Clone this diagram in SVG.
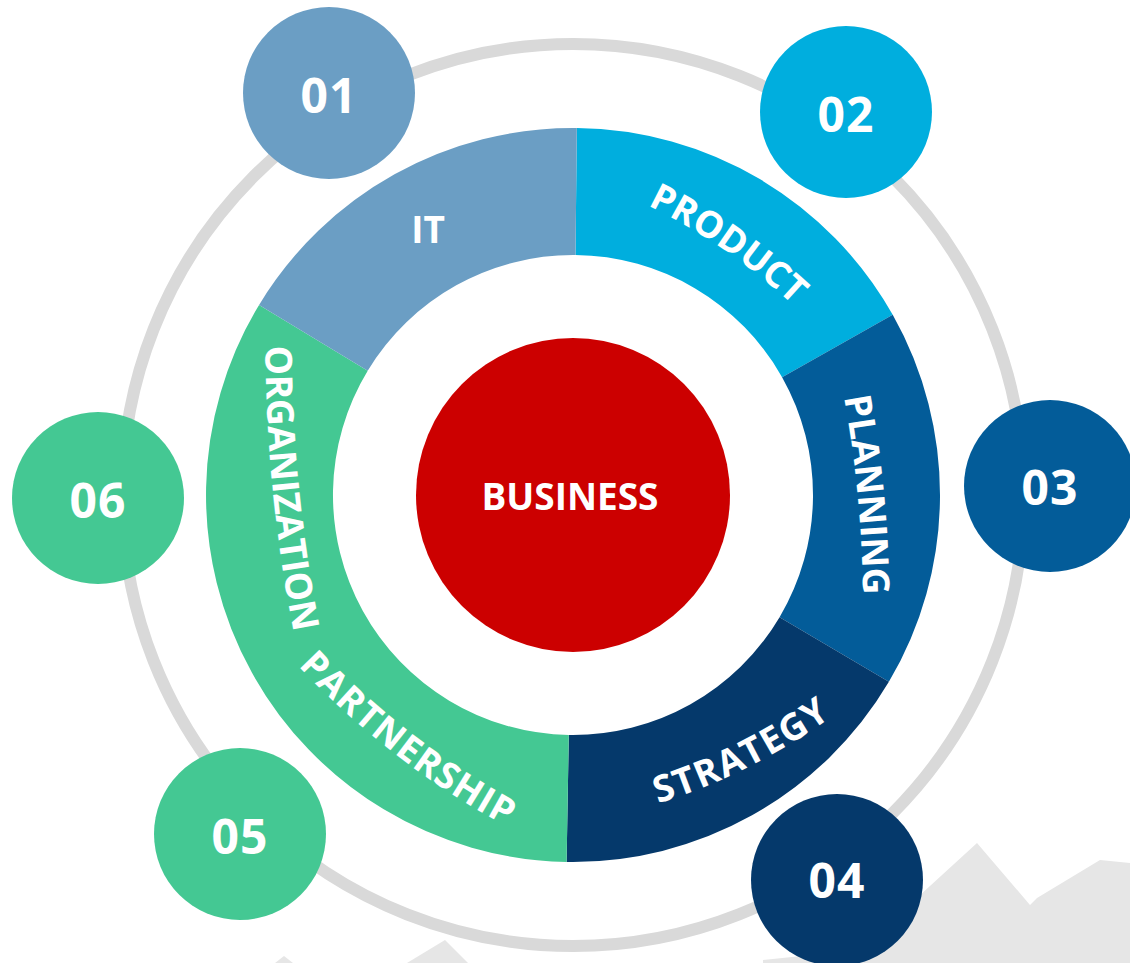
<svg xmlns="http://www.w3.org/2000/svg" width="1130" height="963" viewBox="0 0 1130 963">
<style>
.lbl{font-family:"Open Sans","Liberation Sans",sans-serif;font-weight:700;fill:#ffffff;font-size:37px}
.num{font-family:"Open Sans","Liberation Sans",sans-serif;font-weight:700;fill:#ffffff;font-size:48px;letter-spacing:1px;text-anchor:middle}
.mtn{fill:#E6E6E6}
</style>
<defs>
<path id="pProduct" d="M604.12,186.46 A586.5,586.5 0 0 1 826.46,339.29"/>
<path id="pPlanning" d="M836.53,359.21 A1186.5,1186.5 0 0 1 862.73,633.39"/>
<path id="pStrategy" d="M611.59,816.07 A613.5,613.5 0 0 0 870.30,686.72"/>
<path id="pPartnership" d="M266.33,629.73 A813.5,813.5 0 0 0 549.98,848.09"/>
<path id="pOrganization" d="M265.81,302.20 A1513.5,1513.5 0 0 0 302.80,675.25"/>
</defs>
<rect width="1130" height="963" fill="#ffffff"/>
<g id="background">
<polygon class="mtn" points="763,963 763,960 860,950 977,843 1030,905 1037,898 1100,860 1130,863 1130,963"/>
<polygon class="mtn" points="275,963 284,956 293,963"/>
<polygon class="mtn" points="407,963 445,940 468,963"/>
</g>
<circle id="orbit" cx="573" cy="495" r="451" fill="none" stroke="#D9D9D9" stroke-width="12"/>
<g id="seg-product">
<path d="M576.84,128.02 A367,367 0 0 1 892.73,314.84 L782.09,377.18 A240,240 0 0 0 575.51,255.01 Z" fill="#00AEDE"/>
<text class="lbl"><textPath href="#pProduct" startOffset="50%" text-anchor="middle">PRODUCT</textPath></text>
</g>
<g id="seg-planning">
<path d="M892.73,314.84 A367,367 0 0 1 888.89,681.82 L779.58,617.17 A240,240 0 0 0 782.09,377.18 Z" fill="#035C99"/>
<text class="lbl"><textPath href="#pPlanning" startOffset="50%" text-anchor="middle">PLANNING</textPath></text>
</g>
<g id="seg-strategy">
<path d="M888.89,681.82 A367,367 0 0 1 566.6,861.9 L568.8,735.0 A240,240 0 0 0 779.58,617.17 Z" fill="#05396B"/>
<text class="lbl" letter-spacing="1.5"><textPath href="#pStrategy" startOffset="50%" text-anchor="middle">STRATEGY</textPath></text>
</g>
<g id="seg-green">
<path d="M566.6,861.9 A367,367 0 0 1 259.08,304.88 L367.71,370.67 A240,240 0 0 0 568.8,735.0 Z" fill="#44C893"/>
<text class="lbl" letter-spacing="1"><textPath href="#pPartnership" startOffset="50%" text-anchor="middle">PARTNERSHIP</textPath></text>
<text class="lbl"><textPath href="#pOrganization" startOffset="50%" text-anchor="middle">ORGANIZATION</textPath></text>
</g>
<g id="seg-it">
<path d="M259.08,304.88 A367,367 0 0 1 576.84,128.02 L575.51,255.01 A240,240 0 0 0 367.71,370.67 Z" fill="#6B9EC4"/>
<text class="lbl" x="428" y="243" text-anchor="middle">IT</text>
</g>
<g id="business">
<circle cx="573" cy="495" r="157" fill="#CC0000"/>
<text class="lbl" x="570" y="510" text-anchor="middle">BUSINESS</text>
</g>
<g id="n01"><circle cx="329" cy="93" r="86" fill="#6B9EC4"/><text class="num" x="329" y="113">01</text></g>
<g id="n02"><circle cx="846" cy="112" r="86" fill="#00AEDE"/><text class="num" x="846" y="132">02</text></g>
<g id="n03"><circle cx="1050" cy="486" r="86" fill="#035C99"/><text class="num" x="1050" y="505">03</text></g>
<g id="n04"><circle cx="837" cy="880" r="86" fill="#05396B"/><text class="num" x="837" y="898">04</text></g>
<g id="n05"><circle cx="240" cy="834" r="86" fill="#44C893"/><text class="num" x="240" y="854">05</text></g>
<g id="n06"><circle cx="98" cy="498" r="86" fill="#44C893"/><text class="num" x="98" y="518">06</text></g>
</svg>
